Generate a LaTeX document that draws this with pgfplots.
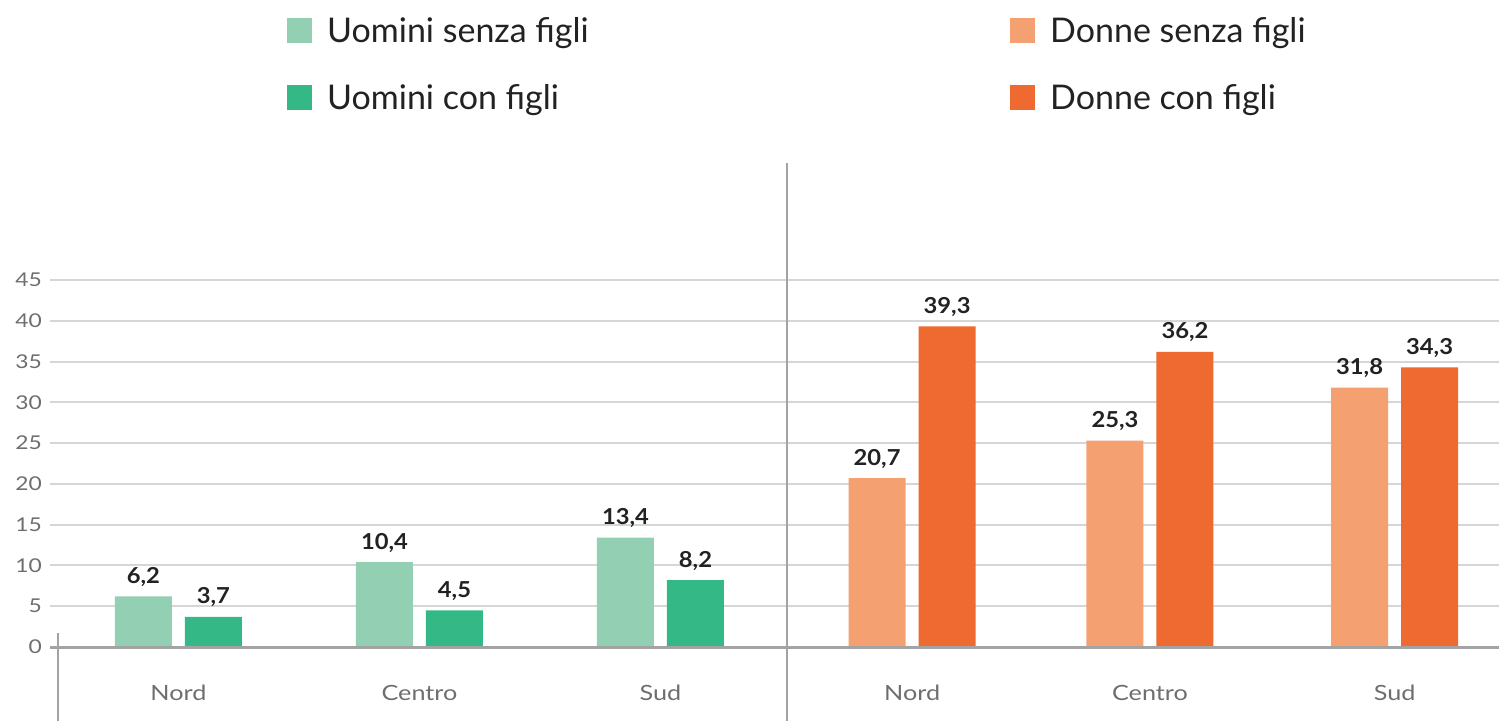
\documentclass[border=0pt]{standalone}
\usepackage{fontspec}
\setmainfont{Lato}
\newfontfamily\tickfont{Lato}[FakeStretch=1.2]
\newfontfamily\labfont{Lato}[FakeStretch=1.08]
\usepackage{pgfplots}
\pgfplotsset{compat=1.18}

\definecolor{menlight}{HTML}{93D0B3}
\definecolor{mendark}{HTML}{34B886}
\definecolor{womlight}{HTML}{F4A071}
\definecolor{womdark}{HTML}{EE6A30}
\definecolor{gridgray}{HTML}{D6D6D6}
\definecolor{axisgray}{HTML}{A3A3A3}
\definecolor{ticktext}{HTML}{6E6E6E}
\definecolor{labtext}{HTML}{222222}

\begin{document}
\begin{tikzpicture}
\begin{axis}[
    at={(0,0)}, anchor=south west,
    scale only axis, width=1449pt, height=367pt,
    xmin=-0.533, xmax=5.479,
    ymin=0, ymax=45,
    clip=false,
    axis line style={draw=none},
    major tick length=0pt,
    ymajorgrids,
    grid style={gridgray, line width=2pt},
    ytick={0,5,...,45},
    xtick={0,1,2,3.044,4.031,5.046},
    xticklabels={Nord,Centro,Sud,Nord,Centro,Sud},
    /pgf/number format/assume math mode=true,
    yticklabel style={font=\tickfont\fontsize{19}{22}\selectfont, text=ticktext,
        anchor=east, inner sep=0pt, xshift=-8pt},
    xticklabel style={font=\tickfont\fontsize{21}{25}\selectfont, text=ticktext,
        anchor=base, inner sep=0pt, yshift=-53pt},
    ybar, bar width=57pt,
    nodes near coords={\pgfmathprintnumber[use comma,fixed,fixed zerofill,precision=1]{\pgfplotspointmeta}},
    every node near coord/.append style={font=\labfont\bfseries\fontsize{22}{26}\selectfont,
        text=labtext, anchor=base, inner sep=0pt, yshift=13pt},
    legend columns=2,
    legend cell align=left,
    legend image code/.code={\draw[#1,draw=none] (0pt,-12.5pt) rectangle (25pt,12.5pt);},
    legend style={at={(axis description cs:0.16356,1.7248)}, anchor=north west,
        draw=none, fill=none, inner sep=0pt, column sep=15pt, row sep=35pt,
        font=\fontsize{34}{40}\selectfont, text=labtext,
        nodes={inner sep=0pt, text height=28pt, text depth=4pt}},
]
% uomini senza figli
\addplot[fill=menlight, draw=none, bar shift=-35pt] coordinates {(0,6.2) (1,10.4) (2,13.4)};
\addlegendentry{\makebox[668pt][l]{Uomini senza figli}}
% donne senza figli
\addplot[fill=womlight, draw=none, bar shift=-35pt] coordinates {(3.044,20.7) (4.031,25.3) (5.046,31.8)};
\addlegendentry{Donne senza figli}
% uomini con figli
\addplot[fill=mendark, draw=none, bar shift=35pt] coordinates {(0,3.7) (1,4.5) (2,8.2)};
\addlegendentry{\makebox[668pt][l]{Uomini con figli}}
% donne con figli
\addplot[fill=womdark, draw=none, bar shift=35pt] coordinates {(3.044,39.3) (4.031,36.2) (5.046,34.3)};
\addlegendentry{Donne con figli}

% separators and base line
\draw[axisgray, line width=2pt] (axis cs:2.525,-9.07) -- (axis cs:2.525,59.34);
\draw[axisgray, line width=2pt] (axis cs:-0.5,-9.07) -- (axis cs:-0.5,1.72);
\draw[axisgray, line width=3pt] (axis cs:-0.533,0) -- (axis cs:5.479,0);
\end{axis}
\pgfresetboundingbox
\path (-50pt,-74pt) rectangle (1449pt,647pt);
\end{tikzpicture}
\end{document}
